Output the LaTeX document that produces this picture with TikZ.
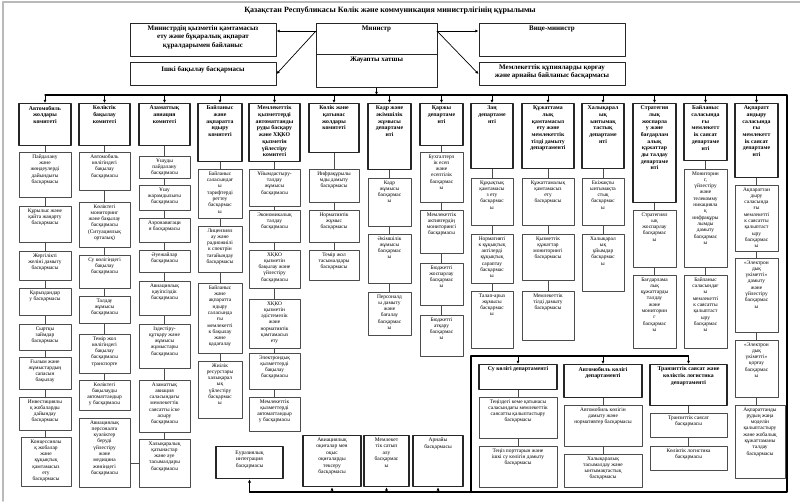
\documentclass[tikz,border=0pt]{standalone}
\usepackage{fontspec}
\setmainfont{Liberation Serif}
\usepackage{tikz}
\usetikzlibrary{arrows.meta}

% box from corner (x1,y1) to corner (x2,y2), text set from the top
\newcommand{\orgbox}[7][subbox]{%
  \node[#1,anchor=north] (#2) at ({(#3+#5)/2},#4)
    {\parbox[t][\dimexpr#6pt-#4pt\relax][t]{\dimexpr#5pt-#3pt\relax}%
      {\vspace*{2.2pt}\centering #7\par}};}

\begin{document}
\begin{tikzpicture}[
  x=1pt,y=-1pt,
  line cap=round,
  line join=round,
  topbox/.style={draw=black!85,line width=1pt,inner sep=0pt,
    font=\bfseries\fontsize{7}{8.3}\selectfont},
  head/.style={draw=black!85,line width=1.3pt,inner sep=0pt,
    font=\bfseries\fontsize{5.8}{6.7}\selectfont},
  subbox/.style={draw=black!70,line width=0.6pt,inner sep=0pt,
    font=\fontsize{5.4}{6.3}\selectfont},
  basebox/.style={head,font=\fontsize{5.5}{6.5}\selectfont},
  link/.style={black!70,line width=0.6pt},
  bus/.style={black,line width=1.3pt},
  arr/.style={black,line width=0.7pt,-{Latex[length=3.2pt,width=3pt]}}
]
\path[use as bounding box] (0,0) rectangle (800,501);
\draw[gray!55,line width=1.5pt] (3,501) -- (3,2) -- (800,2);

\node[font=\bfseries\fontsize{8}{9}\selectfont] (title) at (390,10)
  {Қазақстан Республикасы Көлік және коммуникация министрлігінің құрылымы};

% top level
\orgbox[topbox]{svc}{130}{23}{276}{56}{Министрдің қызметін қамтамасыз\\ ету және бұқаралық ақпарат\\ құралдарымен байланыс}
\orgbox[topbox]{audit}{130}{62}{276}{85}{\vspace*{2pt}Ішкі бақылау басқармасы}
\orgbox[topbox]{min}{316}{23}{437}{54}{Министр}
\orgbox[topbox]{sec}{316}{54}{437}{87}{Жауапты хатшы}
\orgbox[topbox]{vice}{479}{23}{625}{56}{Вице-министр}
\orgbox[topbox]{secret}{479}{62}{625}{85}{Мемлекеттік құпияларды қорғау\\ және арнайы байланыс басқармасы}

\coordinate (mL) at (316,31);
\coordinate (mR) at (437,31);
\draw[arr] (mL) -- (svc.east |- mL);
\draw[arr] (mL) -- (audit.east);
\draw[arr] (mR) -- (vice.west |- mR);
\draw[arr] (mR) -- (secret.west);

% committees and departments
\orgbox[head]{c1}{19}{103}{71}{145}{Автомобиль\\ жолдары\\ комитеті}
\orgbox[head]{c2}{79}{103}{130}{145}{Көліктік\\ бақылау\\ комитеті}
\orgbox[head]{c3}{139}{103}{190}{145}{Азаматтық\\ авиация\\ комитеті}
\orgbox[head]{c4}{198}{103}{242}{161}{Байланыс\\ және\\ ақпаратта\\ ндыру\\ комитеті}
\orgbox[head]{c5}{249}{103}{300}{161}{Мемлекеттік\\ қызметтерді\\ автоматтанды\\ руды басқару\\ және ХҚКО\\ қызметін\\ үйлестіру\\ комитеті}
\orgbox[head]{c6}{309}{103}{359}{152}{Көлік және\\ қатынас\\ жолдары\\ комитеті}
\orgbox[head]{c7}{368}{103}{411}{169}{Кадр және\\ әкімшілік\\ жұмысы\\ департаме\\ нті}
\orgbox[head]{c8}{420}{103}{463}{145}{Қаржы\\ департаме\\ нті}
\orgbox[head]{c9}{471}{103}{513}{168}{Заң\\ департаме\\ нті}
\orgbox[head]{c10}{522}{103}{574}{168}{Құжаттама\\ лық\\ қамтамасыз\\ ету және\\ мемлекеттік\\ тілді дамыту\\ департаменті}
\orgbox[head]{c11}{582}{103}{624}{168}{Халықарал\\ ық\\ ынтымақ\\ тастық\\ департаме\\ нті}
\orgbox[head]{c12}{633}{103}{676}{202}{Стратегия\\ лық\\ жоспарла\\ у және\\ бағдарлам\\ алық\\ құжаттар\\ ды талдау\\ департаме\\ нті}
\orgbox[head]{c13}{684}{103}{727}{160}{Байланыс\\ саласында\\ ғы\\ мемлекетт\\ ік саясат\\ департаме\\ нті}
\orgbox[head]{c14}{735}{103}{778}{177}{Ақпаратт\\ андыру\\ саласында\\ ғы\\ мемлекетт\\ ік саясат\\ департаме\\ нті}

% column 1
\orgbox{c1a}{19}{152}{71}{197}{Пайдалану\\ және\\ жөндеулерді\\ дайындығы\\ басқармасы}
\orgbox{c1b}{19}{206}{71}{242}{Құрылыс және\\ қайта жаңарту\\ басқармасы}
\orgbox{c1c}{19}{251}{71}{280}{Жергілікті\\ желіні дамыту\\ басқармасы}
\orgbox{c1d}{19}{288}{71}{315}{Қарыздандар\\ у басқармасы}
\orgbox{c1e}{19}{324}{71}{350}{Сыртқы\\ займдар\\ басқармасы}
\orgbox{c1f}{19}{357}{71}{389}{Ғылым және\\ жұмыстардың\\ сапасын\\ бақылау}
\orgbox{c1g}{19}{397}{71}{430}{Инвестициялы\\ қ жобаларды\\ дайындау\\ басқармасы}
\orgbox{c1h}{21}{437}{71}{486}{Концессиялы\\ қ жобалар\\ және\\ құқықтық\\ қамтамасыз\\ ету\\ басқармасы}

% column 2
\orgbox{c2a}{79}{152}{130}{190}{Автомобиль\\ көлігіндегі\\ бақылау\\ басқармасы}
\orgbox{c2b}{79}{202}{130}{247}{Көліктегі\\ мониторинг\\ және бақылау\\ басқармасы\\ (Ситуациялық\\ орталық)}
\orgbox{c2c}{79}{255}{130}{288}{Су көлігіндегі\\ бақылау\\ басқармасы}
\orgbox{c2d}{79}{296}{130}{323}{Талдау\\ жұмысы\\ басқармасы}
\orgbox{c2e}{79}{334}{130}{373}{Темір жол\\ көлігіндегі\\ бақылау\\ басқармасы\\ транспорте}
\orgbox{c2f}{79}{380}{130}{410}{Көліктегі\\ бақылауды\\ автоматтандыр\\ у басқармасы}
\orgbox{c2g}{79}{418}{130}{487}{Авиациялық\\ персоналға\\ куәліктер\\ беруді\\ үйлестіру\\ және\\ медицина\\ жөніндегі\\ басқармасы}

% column 3
\orgbox{c3a}{139}{156}{190}{178}{Ұшуды\\ пайдалану\\ басқармасы}
\orgbox{c3b}{139}{185}{190}{210}{Ұшу\\ жарамдылығы\\ басқармасы}
\orgbox{c3c}{139}{218}{190}{242}{Аэронавигаци\\ я басқармасы}
\orgbox{c3d}{139}{250}{190}{272}{Әуежайлар\\ басқармасы}
\orgbox{c3e}{139}{281}{190}{315}{Авиациялық\\ қауіпсіздік\\ басқармасы}
\orgbox{c3f}{139}{324}{190}{368}{Іздестіру-\\ құтқару және\\ жұмысы\\ жұмыстары\\ басқармасы}
\orgbox{c3g}{139}{380}{190}{432}{Азаматтық\\ авиация\\ саласындағы\\ мемлекеттік\\ саясатты іске\\ асыру\\ басқармасы}
\orgbox{c3h}{139}{439}{190}{487}{Халықаралық\\ қатынастар\\ және әуе\\ тасымалдары\\ басқармасы}

% column 4
\orgbox{c4a}{198}{169}{242}{218}{Байланыс\\ саласындағ\\ ы\\ тарифтерді\\ реттеу\\ басқармас\\ ы}
\orgbox{c4b}{198}{226}{242}{272}{Лицензиял\\ ау және\\ радиожиілі\\ к спектрін\\ тағайындау\\ басқармасы}
\orgbox{c4c}{198}{283}{242}{353}{Байланыс\\ және\\ ақпаратта\\ ндыру\\ саласында\\ ғы\\ мемлекетті\\ к бақылау\\ және\\ қадағалау}
\orgbox{c4d}{198}{361}{242}{418}{Жиілік\\ ресурстары\\ халықарал\\ ық\\ үйлестіру\\ басқармас\\ ы}

% column 5
\orgbox{c5a}{249}{169}{300}{206}{Ұйымдастыру-\\ талдау\\ жұмысы\\ басқармасы}
\orgbox{c5b}{249}{210}{300}{242}{Экономикалық\\ талдау\\ басқармасы}
\orgbox{c5c}{249}{250}{300}{288}{ХҚКО\\ қызметін\\ бақылау және\\ үйлестіру\\ басқармасы}
\orgbox{c5d}{249}{299}{300}{348}{ХҚКО\\ қызметін\\ әдістемелік\\ және\\ нормативтік\\ қамтамасыз\\ ету}
\orgbox{c5e}{249}{353}{300}{389}{Электрондық\\ қызметтерді\\ бақылау\\ басқармасы}
\orgbox{c5f}{249}{397}{300}{431}{Мемлекеттік\\ қызметтерді\\ автоматтандыр\\ у басқармасы}

% column 6
\orgbox{c6a}{309}{169}{359}{202}{Инфрақұрылы\\ мды дамыту\\ басқармасы}
\orgbox{c6b}{309}{210}{359}{242}{Нормативтік\\ жұмыс\\ басқармасы}
\orgbox{c6c}{309}{250}{359}{280}{Темір жол\\ тасымалдары\\ басқармасы}

% column 7
\orgbox{c7a}{368}{178}{411}{226}{Кадр\\ жұмысы\\ басқармас\\ ы}
\orgbox{c7b}{368}{234}{411}{283}{Әкімшілік\\ жұмысы\\ басқармас\\ ы}
\orgbox{c7c}{368}{292}{411}{335}{Персоналд\\ ы дамыту\\ және\\ бағалау\\ басқармас\\ ы}

% column 8
\orgbox{c8a}{420}{152}{463}{202}{Бухгалтерл\\ ік есеп\\ және\\ есептілік\\ басқармас\\ ы}
\orgbox{c8b}{420}{210}{463}{253}{Мемлекеттік\\ активтердің\\ мониторингі\\ басқармасы}
\orgbox{c8c}{420}{263}{463}{305}{Бюджетті\\ жоспарлау\\ басқармас\\ ы}
\orgbox{c8d}{420}{315}{463}{356}{Бюджетті\\ атқару\\ басқармас\\ ы}

% column 9
\orgbox{c9a}{471}{178}{513}{225}{Құқықтық\\ қамтамасы\\ з ету\\ басқармас\\ ы}
\orgbox{c9b}{471}{234}{513}{283}{Нормативті\\ к құқықтық\\ актілерді\\ құқықтық\\ сараптау\\ басқармас\\ ы}
\orgbox{c9c}{471}{291}{513}{348}{Талап-арыз\\ жұмысы\\ басқармас\\ ы}

% column 10
\orgbox{c10a}{522}{178}{574}{225}{Құжаттамалық\\ қамтамасыз\\ ету\\ басқармасы}
\orgbox{c10b}{522}{234}{574}{280}{Қызметтік\\ құжаттар\\ мониторингі\\ басқармасы}
\orgbox{c10c}{522}{291}{574}{340}{Мемлекеттік\\ тілді дамыту\\ басқармасы}

% column 11
\orgbox{c11a}{582}{178}{624}{225}{Екіжақты\\ ынтымақта\\ стық\\ басқармас\\ ы}
\orgbox{c11b}{582}{234}{624}{291}{Халықарал\\ ық\\ ұйымдар\\ басқармас\\ ы}

% column 12
\orgbox{c12a}{633}{210}{676}{267}{Стратегиял\\ ық\\ жоспарлау\\ басқармас\\ ы}
\orgbox{c12b}{633}{275}{676}{348}{Бағдарлама\\ лық\\ құжаттарды\\ талдау\\ және\\ мониторин\\ г\\ басқармас\\ ы}

% column 13
\orgbox{c13a}{684}{169}{727}{267}{Мониторин\\ г,\\ үйлестіру\\ және\\ телекомму\\ никацияла\\ қ\\ инфрақұры\\ лымды\\ дамыту\\ басқармас\\ ы}
\orgbox{c13b}{684}{275}{727}{348}{Байланыс\\ саласындағ\\ ы\\ мемлекетті\\ к саясатты\\ қалыптаст\\ ыру\\ басқармас\\ ы}

% column 14
\orgbox{c14a}{735}{185}{778}{251}{Ақпараттан\\ дыру\\ саласында\\ ғы\\ мемлекетті\\ к саясатты\\ қалыптаст\\ ыру\\ басқармас\\ ы}
\orgbox{c14b}{735}{258}{778}{332}{«Электрон\\ дық\\ үкіметті»\\ дамыту\\ және\\ үйлестіру\\ басқармас\\ ы}
\orgbox{c14c}{735}{340}{778}{397}{«Электрон\\ дық\\ үкіметті»\\ қорғау\\ басқармас\\ ы}
\orgbox{c14d}{735}{405}{785}{478}{Ақпараттанды\\ рудың жаңа\\ моделін\\ қалыптастыру\\ және жобалық\\ құжаттаманы\\ талдау\\ басқармасы}

% transport departments group
\orgbox[head]{su}{479}{364}{557}{389}{Су көлігі департаменті}
\orgbox{sua}{479}{397}{557}{438}{Теңіздегі кеме қатынасы\\ саласындағы мемлекеттік\\ саясатты қалыптастыру\\ басқармасы}
\orgbox{sub}{479}{446}{557}{487}{Теңіз порттарын және\\ ішкі су көлігін дамыту\\ басқармасы}
\orgbox[head]{au}{564}{364}{642}{397}{Автомобиль көлігі\\ департаменті}
\orgbox{aua}{564}{405}{642}{446}{Автомобиль көлігін\\ дамыту және\\ нормативтер басқармасы}
\orgbox{aub}{564}{454}{642}{487}{Халықаралық\\ тасымалдау және\\ ынтымақтастық\\ басқармасы}
\orgbox[head]{tr}{650}{364}{727}{405}{Транзиттік саясат және\\ көліктік логистика\\ департаменті}
\orgbox{tra}{650}{413}{727}{437}{Транзиттік саясат\\ басқармасы}
\orgbox{trb}{650}{446}{727}{470}{Көліктік логистика\\ басқармасы}

% units under the secretary
\orgbox[basebox]{eur}{216}{446}{283}{478}{\vspace*{2pt}Еуразиялық\\ интеграция\\ басқармасы}
\orgbox[basebox]{avi}{303}{435}{361}{486}{Авиациялық\\ оқиғалар мен\\ оқыс\\ оқиғаларды\\ тексеру\\ басқармасы}
\orgbox[basebox]{proc}{364}{435}{409}{486}{Мемлекет\\ тік сатып\\ алу\\ басқармас\\ ы}
\orgbox[basebox]{spec}{413}{435}{463}{486}{Арнайы\\ басқармасы}

% links inside the columns
\foreach \c/\n in {c1/h,c2/f,c3/h,c4/d,c5/f,c6/c,c7/c,c8/d,c9/c,
                   c10/c,c11/b,c12/b,c13/b,c14/d,su/b,au/b,tr/b}
  \foreach \s [remember=\s as \p (initially {})] in {a,...,\n}
    \draw[link] (\c\p.south) -- (\c\p.south |- \c\s.north);
\draw[link] (c3h.west) -- (c3h.west -| c2g.east);

% main bus from the secretary
\coordinate (busL) at (45,95);
\coordinate (busR) at (787,95);
\coordinate (busBR) at (787,492);
\draw[bus] (busL) -- (busR) -- (busBR) -- (busBR -| eur.south);
\draw[arr] (sec.south) -- (sec.south |- busL);
\foreach \c in {c1,c2,c3,c4,c5,c6,c7,c8,c9,c10,c11,c12,c13,c14}
  \draw[arr] (\c.north |- busL) -- (\c.north);
\foreach \b in {eur,avi,proc,spec}
  \draw[arr] (\b.south |- busBR) -- (\b.south);

% inner bus for the transport departments
\coordinate (innTL) at (471,356);
\draw[bus] (innTL |- busBR) -- (innTL) -- (innTL -| tr.north);
\foreach \d in {su,au,tr}
  \draw[arr] (\d.north |- innTL) -- (\d.north);
\end{tikzpicture}
\end{document}
